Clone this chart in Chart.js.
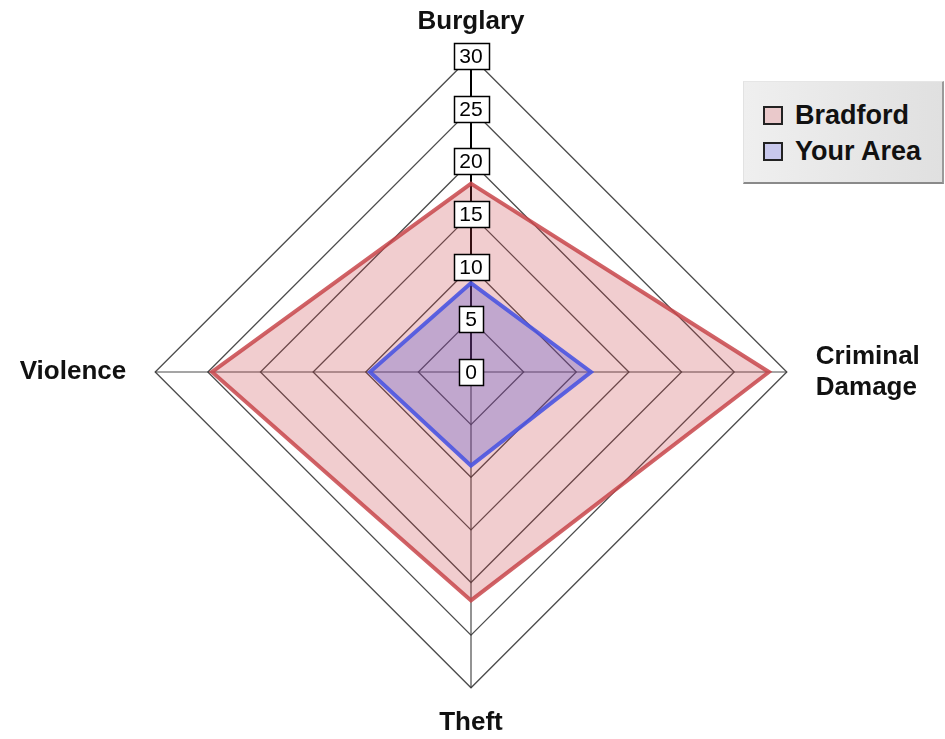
<!DOCTYPE html>
<html>
<head>
<meta charset="utf-8">
<script src="https://cdn.jsdelivr.net/npm/chart.js@4/dist/chart.umd.min.js"></script>
<style>
  html, body { margin: 0; padding: 0; background: #fff; }
  #wrap { position: relative; width: 945px; height: 739px; overflow: hidden; }
  #legend {
    position: absolute; left: 743px; top: 81px; width: 201px; height: 103px;
    box-sizing: border-box; padding-top: 15px; padding-left: 19px;
    background: linear-gradient(to right, #efefef, #e0e0e0);
    border-top: 1px solid #e6e6e6; border-left: 1px solid #e2e2e2;
    border-right: 2px solid #9a9a9a; border-bottom: 2px solid #8a8a8a;
    font-family: "Liberation Sans", Arial, sans-serif; font-weight: bold; font-size: 27px; color: #111;
  }
  .row { display: flex; align-items: center; height: 36px; line-height: 36px; white-space: nowrap; }
  .sw { width: 16px; height: 15px; border: 2px solid #222; margin-right: 12px; flex: none; }
</style>
</head>
<body>
<div id="wrap">
  <canvas id="c" width="945" height="739"></canvas>
  <div id="legend"></div>
</div>
<script>
const categories = ["Burglary", ["Criminal", "Damage"], "Theft", "Violence"];
const bradford = [17.9, 28.3, 21.7, 24.6];
const yourArea = [8.45, 11.4, 8.9, 9.6];
const seriesNames = ["Bradford", "Your Area"];
const tickValues = [0, 5, 10, 15, 20, 25, 30];

const swatchColors = ["rgb(234,201,203)", "rgb(200,200,236)"];

const tickBoxes = {
  id: 'tickBoxes',
  afterDatasetsDraw(chart) {
    const s = chart.scales.r;
    const ctx = chart.ctx;
    ctx.save();
    ctx.font = '21px "Liberation Sans", Arial, sans-serif';
    ctx.textAlign = 'center';
    ctx.textBaseline = 'middle';
    s.ticks.forEach(t => {
      const p = s.getPointPositionForValue(0, t.value);
      const w = Math.round(ctx.measureText(t.label).width + 12);
      const h = 26;
      const x = Math.round(p.x - w / 2) + 0.5;
      const y = Math.round(p.y - h / 2) + 0.5;
      ctx.fillStyle = '#fff';
      ctx.fillRect(x, y, w, h);
      ctx.strokeStyle = '#000';
      ctx.lineWidth = 1.5;
      ctx.strokeRect(x, y, w, h);
      ctx.fillStyle = '#000';
      ctx.fillText(t.label, p.x, p.y + 1);
    });
    ctx.restore();
  }
};

const chart = new Chart(document.getElementById('c'), {
  type: 'radar',
  data: {
    labels: categories,
    datasets: [
      {
        label: seriesNames[0],
        data: bradford,
        order: 2,
        backgroundColor: 'rgba(200,60,70,0.26)',
        borderColor: 'rgba(200,70,75,0.85)',
        borderWidth: 4,
        pointRadius: 0,
        pointHoverRadius: 0,
        fill: true
      },
      {
        label: seriesNames[1],
        data: yourArea,
        order: 1,
        backgroundColor: 'rgba(70,70,200,0.28)',
        borderColor: 'rgba(75,85,225,0.9)',
        borderWidth: 4,
        pointRadius: 0,
        pointHoverRadius: 0,
        fill: true
      }
    ]
  },
  options: {
    responsive: false,
    animation: false,
    layout: { padding: { top: 6, right: 4, bottom: 0, left: 0 } },
    plugins: {
      legend: { display: false },
      tooltip: { enabled: false }
    },
    scales: {
      r: {
        min: 0,
        max: 30,
        afterBuildTicks: (scale) => { scale.ticks = tickValues.map(v => ({ value: v })); },
        ticks: { display: false, stepSize: 5 },
        grid: { color: 'rgba(55,55,55,0.9)', lineWidth: 1.3, circular: false },
        angleLines: {
          color: (ctx) => ctx.index === 0 ? '#000' : 'rgba(55,55,55,0.9)',
          lineWidth: (ctx) => ctx.index === 0 ? 2 : 1.2
        },
        pointLabels: {
          color: '#111',
          font: { family: '"Liberation Sans", Arial, sans-serif', size: 26, weight: 'bold' },
          padding: (ctx) => (ctx.index % 2 === 1) ? 29 : 19
        }
      }
    }
  },
  plugins: [tickBoxes]
});

const legend = document.getElementById('legend');
chart.data.datasets.forEach((ds, i) => {
  const row = document.createElement('div');
  row.className = 'row';
  const sw = document.createElement('span');
  sw.className = 'sw';
  sw.style.background = swatchColors[i];
  const tx = document.createElement('span');
  tx.textContent = ds.label;
  row.appendChild(sw);
  row.appendChild(tx);
  legend.appendChild(row);
});
</script>
</body>
</html>
